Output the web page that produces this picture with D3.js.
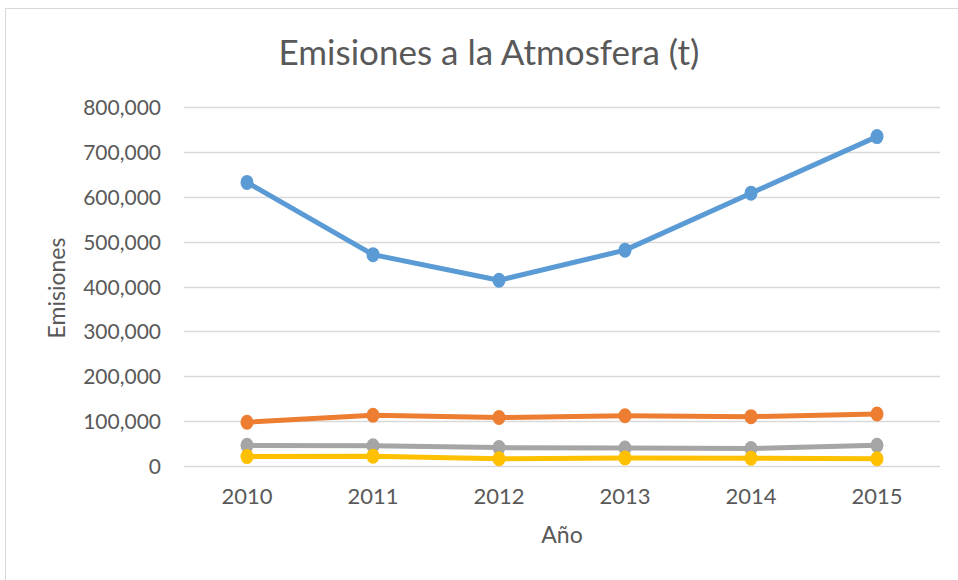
<!DOCTYPE html>
<html>
<head>
<meta charset="utf-8">
<script src="https://cdn.jsdelivr.net/npm/d3@7"></script>
<style>
  html, body { margin: 0; padding: 0; background: #fff; }
  svg { display: block; }
  text { font-family: Lato, "Open Sans", sans-serif; fill: #595959; }
</style>
</head>
<body>
<svg id="chart" width="958" height="580"></svg>
<script>
// Emissions to atmosphere per year (tonnes), four series
const years = ["2010", "2011", "2012", "2013", "2014", "2015"];
const serieA = [632000, 471000, 414000, 481000, 608000, 734000];
const serieB = [97500, 113000, 108000, 112000, 110000, 116000];
const serieC = [46000, 45000, 41000, 40000, 39000, 46000];
const serieD = [21000, 22000, 16000, 18000, 17500, 16000];
const yTicks = [0, 100000, 200000, 300000, 400000, 500000, 600000, 700000, 800000];

const series = [
  { values: serieA, color: "#5B9BD5" },
  { values: serieB, color: "#ED7D31" },
  { values: serieC, color: "#A5A5A5" },
  { values: serieD, color: "#FFC000" }
];

const svg = d3.select("#chart");

// chart area frame
svg.append("rect")
  .attr("x", 5.5).attr("y", 8.5)
  .attr("width", 1000).attr("height", 1000)
  .attr("fill", "none").attr("stroke", "#D9D9D9");

const plot = { left: 184, right: 940, top: 107, bottom: 466 };

const x = d3.scaleBand().domain(years).range([plot.left, plot.right]);
const y = d3.scaleLinear().domain([0, 800000]).range([plot.bottom, plot.top]);

// horizontal gridlines
svg.append("g")
  .selectAll("line")
  .data(yTicks)
  .join("line")
  .attr("x1", plot.left).attr("x2", plot.right)
  .attr("y1", d => Math.round(y(d)) + 0.5).attr("y2", d => Math.round(y(d)) + 0.5)
  .attr("stroke", "#D9D9D9").attr("stroke-width", 1.3);

// y axis labels
const fmt = d3.format(",");
const yAxis = svg.append("g")
  .attr("transform", `translate(161,0)`)
  .call(d3.axisLeft(y).tickValues(yTicks).tickFormat(fmt).tickSize(0).tickPadding(0));
yAxis.select(".domain").remove();
yAxis.selectAll("text")
  .attr("font-size", 21).attr("fill", "#595959").attr("dy", "0.36em")
  .style("font-family", "Lato, 'Open Sans', sans-serif");

// x axis labels
const xAxis = svg.append("g")
  .attr("transform", `translate(0,504)`)
  .call(d3.axisBottom(x).tickSize(0).tickPadding(0));
xAxis.select(".domain").remove();
xAxis.selectAll("text")
  .attr("font-size", 22).attr("fill", "#595959").attr("dy", 0)
  .style("font-family", "Lato, 'Open Sans', sans-serif");

// series lines and markers
const cx = d => x(d) + x.bandwidth() / 2;
const line = d3.line()
  .x((d, i) => cx(years[i]))
  .y(d => y(d));

series.forEach(s => {
  const g = svg.append("g");
  g.append("path")
    .datum(s.values)
    .attr("d", line)
    .attr("fill", "none")
    .attr("stroke", s.color)
    .attr("stroke-width", 5)
    .attr("stroke-linejoin", "round")
    .attr("stroke-linecap", "round");
  g.selectAll("ellipse")
    .data(s.values)
    .join("ellipse")
    .attr("cx", (d, i) => cx(years[i]))
    .attr("cy", d => y(d))
    .attr("rx", 6.5).attr("ry", 7.5)
    .attr("fill", s.color);
});

// title
svg.append("text")
  .attr("x", 489).attr("y", 65)
  .attr("text-anchor", "middle")
  .attr("font-size", 35)
  .text("Emisiones a la Atmosfera (t)");

// axis titles
svg.append("text")
  .attr("x", 562).attr("y", 543)
  .attr("text-anchor", "middle")
  .attr("font-size", 23)
  .text("Año");

svg.append("text")
  .attr("transform", "translate(65,288) rotate(-90)")
  .attr("text-anchor", "middle")
  .attr("font-size", 23)
  .text("Emisiones");
</script>
</body>
</html>
